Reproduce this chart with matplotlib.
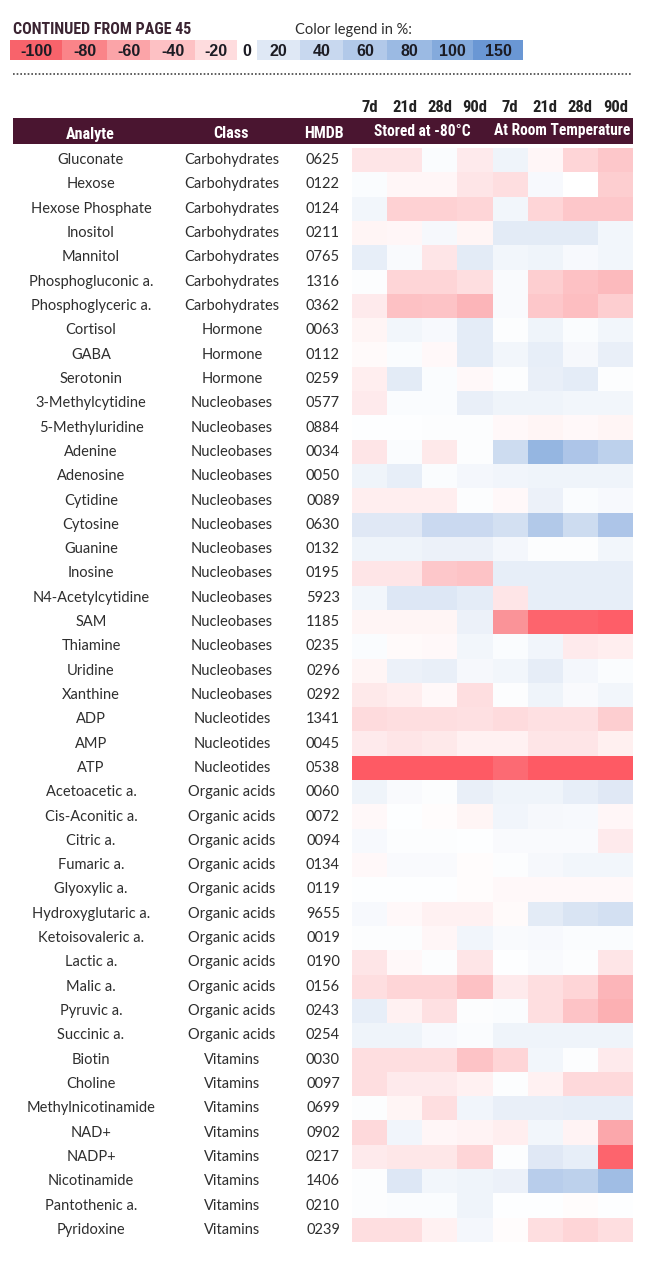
import numpy as np
import matplotlib.pyplot as plt
from matplotlib import font_manager as fm
from matplotlib.colors import LinearSegmentedColormap, Normalize

# Tabla de estabilidad (continuación de pág. 45)

analytes = ["Gluconate", "Hexose", "Hexose Phosphate", "Inositol", "Mannitol",
            "Phosphogluconic a.", "Phosphoglyceric a.", "Cortisol", "GABA", "Serotonin",
            "3-Methylcytidine", "5-Methyluridine", "Adenine", "Adenosine", "Cytidine",
            "Cytosine", "Guanine", "Inosine", "N4-Acetylcytidine", "SAM",
            "Thiamine", "Uridine", "Xanthine", "ADP", "AMP", "ATP",
            "Acetoacetic a.", "Cis-Aconitic a.", "Citric a.", "Fumaric a.", "Glyoxylic a.",
            "Hydroxyglutaric a.", "Ketoisovaleric a.", "Lactic a.", "Malic a.", "Pyruvic a.",
            "Succinic a.", "Biotin", "Choline", "Methylnicotinamide", "NAD+", "NADP+",
            "Nicotinamide", "Pantothenic a.", "Pyridoxine"]

classes = (["Carbohydrates"] * 7 + ["Hormone"] * 3 + ["Nucleobases"] * 13 +
           ["Nucleotides"] * 3 + ["Organic acids"] * 11 + ["Vitamins"] * 8)

hmdb = ["0625", "0122", "0124", "0211", "0765", "1316", "0362", "0063", "0112", "0259",
        "0577", "0884", "0034", "0050", "0089", "0630", "0132", "0195", "5923", "1185",
        "0235", "0296", "0292", "1341", "0045", "0538", "0060", "0072", "0094", "0134",
        "0119", "9655", "0019", "0190", "0156", "0243", "0254", "0030", "0097", "0699",
        "0902", "0217", "1406", "0210", "0239"]

days = ["7d", "21d", "28d", "90d", "7d", "21d", "28d", "90d"]

# % de cambio: 4 columnas a -80°C, 4 a temperatura ambiente
valores = np.array([
    [-15, -15, 3, -12, 10, -5, -25, -35],
    [3, -5, -5, -15, -18, 5, 0, -30],
    [8, -28, -28, -25, 8, -25, -35, -35],
    [-6, -5, 6, -6, 18, 18, 18, 8],
    [15, 4, -15, 18, 8, 10, 5, 8],
    [2, -25, -25, -18, 4, -30, -40, -45],
    [-12, -40, -38, -48, 4, -35, -42, -30],
    [-6, 8, 5, 17, 2, 10, 3, 8],
    [-3, 3, -4, 17, 8, 15, 6, 14],
    [-10, 18, 3, -4, 2, 14, 17, 2],
    [-12, 3, 3, 14, 10, 10, 8, 8],
    [1, 1, 2, 2, -4, -6, -4, -6],
    [-15, 3, -13, 2, 35, 85, 65, 50],
    [10, 15, 3, 7, 9, 10, 10, 10],
    [-10, -10, -10, 2, -4, 12, 3, 5],
    [20, 20, 38, 38, 30, 60, 35, 65],
    [10, 10, 12, 12, 7, 2, 2, 8],
    [-15, -15, -35, -38, 15, 15, 15, 15],
    [8, 22, 22, 17, -15, 15, 15, 15],
    [-6, -6, -6, 12, -70, -95, -95, -98],
    [3, -3, -4, 8, 3, 9, -12, -10],
    [-6, 12, 14, 6, 8, 16, 7, 3],
    [-13, -10, -4, -18, 2, 10, 4, 8],
    [-20, -18, -18, -17, -20, -17, -17, -30],
    [-12, -15, -13, -8, -8, -15, -15, -9],
    [-100, -100, -100, -100, -92, -100, -100, -100],
    [10, 4, 2, 14, 10, 10, 15, 20],
    [-4, 1, -2, -6, 9, 6, 5, -5],
    [5, 2, 2, 1, 4, 4, 4, -12],
    [-4, 4, 4, -2, 2, 6, 8, 8],
    [1, 1, 1, -2, -4, -4, -4, -4],
    [5, -4, -8, -8, -3, 18, 25, 30],
    [2, 2, -5, 9, 4, 5, 3, 3],
    [-15, -4, 2, -15, 1, 4, 2, -15],
    [-18, -25, -25, -40, -12, -18, -25, -48],
    [15, -8, -17, 2, 3, -18, -38, -52],
    [10, 10, 5, 3, 10, 10, 10, 10],
    [-18, -18, -18, -38, -25, 8, 2, -12],
    [-18, -12, -12, -8, 2, -8, -22, -22],
    [2, -6, -18, 9, 14, 14, 15, 15],
    [-22, 9, -5, -7, -10, 8, -7, -58],
    [-12, -14, -14, -25, 2, 20, 15, -95],
    [2, 22, 8, 10, 12, 55, 50, 75],
    [2, 3, 3, 10, 1, 1, -2, 1],
    [-18, -18, -8, 7, -2, -18, -25, -18],
])

leyenda_vals = [-100, -80, -60, -40, -20, 0, 20, 40, 60, 80, 100, 150]
leyenda_cols = ["#f8636b", "#fa8489", "#fba4a8", "#fdc1c4", "#fedcde", "#ffffff",
                "#dfe8f5", "#c8d8ef", "#b2c9e9", "#9bbae3", "#84aadc", "#6a97d4"]

# escala de las celdas (un poco más saturada en el extremo rojo)
celda_cols = ["#fe5a64"] + leyenda_cols[1:]
pos = [(v + 100) / 250 for v in leyenda_vals]
cmap = LinearSegmentedColormap.from_list("estab", list(zip(pos, celda_cols)))
norm = Normalize(-100, 150)


# buscar una fuente bold condensada, si hay
def fuente_condensada():
    bold = [f for f in fm.fontManager.ttflist if f.weight in (600, 700, "bold", "semibold", 800)]
    for pref in ["Liberation Sans Narrow", "DejaVu Sans Condensed", "Roboto Condensed",
                 "Open Sans Condensed", "Noto Sans Condensed"]:
        for f in bold:
            if f.name == pref:
                return f.fname, True
    for f in bold:
        if f.stretch in ("condensed", "semi-condensed", "extra-condensed") or \
                "Condensed" in f.name or "Narrow" in f.name:
            return f.fname, True
    return None, False


cond_file, hay_cond = fuente_condensada()


def fp_cond(size):
    if hay_cond:
        return fm.FontProperties(fname=cond_file, size=size)
    return fm.FontProperties(family="Roboto", weight="bold", size=size * 0.85)


W, H = 654, 1274
fig = plt.figure(figsize=(W / 100, H / 100), dpi=100)
ax = fig.add_axes([0, 0, 1, 1])
ax.set_xlim(0, W)
ax.set_ylim(H, 0)
ax.axis("off")

body = "Lato"
dark = "#2e2e2e"

# Encabezado
ax.text(13, 30, "CONTINUED FROM PAGE 45", fontproperties=fp_cond(11.5),
        color="#3b2432", va="center", ha="left")
ax.text(295, 30, "Color legend in %:", fontsize=10.5, family=body,
        color=dark, va="center", ha="left")

edges_leg = [10, 62, 107, 150, 195, 237, 257, 300, 343, 387, 432, 473, 523]
for i, v in enumerate(leyenda_vals):
    x0, x1 = edges_leg[i], edges_leg[i + 1]
    ax.add_patch(plt.Rectangle((x0, 40), x1 - x0, 20, color=leyenda_cols[i], lw=0))
    ax.text((x0 + x1) / 2, 51, str(v), fontsize=11.5, fontweight="bold",
            family="Liberation Sans", color="#1c1c24", ha="center", va="center")

ax.plot([13, 632], [74, 74], color="#444444", lw=1.2, ls=(0, (1, 1.2)))

# Barra de títulos
x0h, x1h = 352, 633
ncol = len(days)
cw = (x1h - x0h) / ncol
ax.add_patch(plt.Rectangle((13, 118), 620, 26, color="#4a1530", lw=0))
for txt, xc in [("Analyte", 90), ("Class", 231), ("HMDB", 324)]:
    ax.text(xc, 134, txt, fontproperties=fp_cond(11.5), color="white",
            ha="center", va="center")
ax.text(x0h + 2 * cw, 131, "Stored at -80°C", fontproperties=fp_cond(11.2),
        color="white", ha="center", va="center")
ax.text(x0h + 6 * cw - 1, 131, "At Room Temperature", fontproperties=fp_cond(11.2),
        color="white", ha="center", va="center")
for j, d in enumerate(days):
    ax.text(x0h + (j + 0.5) * cw, 108, d, fontproperties=fp_cond(12),
            color="#222222", ha="center", va="center")

# Mapa de calor
nrow = len(analytes)
y0, y1 = 148, 1242
xe = np.linspace(x0h, x1h, ncol + 1)
ye = np.linspace(y0, y1, nrow + 1)
ax.pcolormesh(xe, ye, valores, cmap=cmap, norm=norm, shading="flat")

rh = (y1 - y0) / nrow
for i in range(nrow):
    yc = y0 + (i + 0.5) * rh
    ax.text(91, yc, analytes[i], fontsize=10.5, family=body, color=dark,
            ha="center", va="center")
    ax.text(232, yc, classes[i], fontsize=10.5, family=body, color=dark,
            ha="center", va="center")
    ax.text(323, yc, hmdb[i], fontsize=10.5, family=body, color=dark,
            ha="center", va="center")

fig.savefig("out.png", dpi=100)
